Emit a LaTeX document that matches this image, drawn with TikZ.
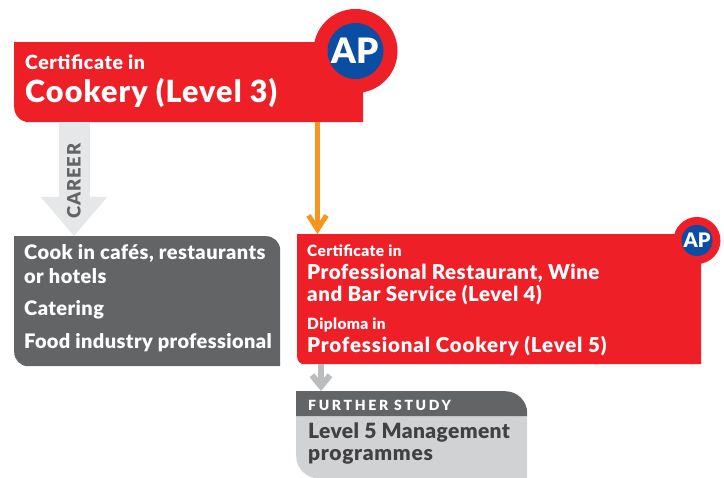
\documentclass[tikz,border=0pt]{standalone}
\usepackage{fontspec}
\setmainfont{Lato}[BoldFont={Lato Black}]
\usetikzlibrary{arrows.meta}
\definecolor{apred}{HTML}{EE1F26}
\definecolor{apblue}{HTML}{0A4DA2}
\definecolor{apgrey}{HTML}{636466}
\definecolor{aplight}{HTML}{D1D2D4}
\definecolor{apink}{HTML}{414042}
\definecolor{aporange}{HTML}{F7941D}
\definecolor{appale}{HTML}{E6E7E8}
\tikzset{
  cornerbox/.style n args={3}{inner sep=0pt,anchor=north west,path picture={
    \fill[#1] (path picture bounding box.north west)
      [rounded corners=#3] -- (path picture bounding box.north east)
      [sharp corners] -- (path picture bounding box.south east)
      [rounded corners=#2] -- (path picture bounding box.south west)
      [sharp corners] -- cycle;}},
  boxtext/.style n args={3}{inner sep=0pt,anchor=base west,text=#1,font=\bfseries\fontsize{#2}{#2}\selectfont\addfontfeature{LetterSpace=#3}},
  apdisc/.style={circle,fill=apblue,inner sep=0pt,text=white},
}
\begin{document}
\begin{tikzpicture}[x=1pt,y=-1pt]
\useasboundingbox (0,0) rectangle (724,478);
\coordinate (careertop) at (74,122);
\coordinate (ordertop) at (317.5,122);
\coordinate (studytop) at (321,364);

\node[circle,fill=apred,minimum size=84,inner sep=0pt] (badgebig) at (355.5,51) {};
\node[circle,fill=apred,minimum size=47,inner sep=0pt] (badgesmall) at (697,240.5) {};
\node[cornerbox={apred}{15}{0.01},minimum width=349,minimum height=80] (cookery) at (14,42) {};
\node[cornerbox={apgrey}{14}{14},minimum width=266,minimum height=130] (jobs) at (14,236) {};
\node[cornerbox={apred}{7}{0.01},minimum width=404,minimum height=130] (prof) at (297,234) {};
\node[cornerbox={aplight}{22}{0.01},minimum width=231,minimum height=62] (studybody) at (296,416) {};
\node[cornerbox={apgrey}{0.01}{22},minimum width=231,minimum height=25] (studyhead) at (296,391) {};

\draw[line width=31,draw=appale,-{Triangle[length=39,width=64]}] (careertop) -- (careertop |- jobs.north);
\draw[line width=5,draw=aporange,-{Straight Barb[length=14,width=18]}] (ordertop) -- (ordertop |- prof.north);
\draw[line width=6,draw=aplight!80!apgrey,-{Straight Barb[length=11,width=18]}] (studytop) -- (studytop |- studyhead.north);

\node[apdisc,minimum size=56,font=\bfseries\fontsize{35}{35}\selectfont] (apbig) at (badgebig) {AP};
\node[apdisc,minimum size=31,font=\bfseries\fontsize{20}{20}\selectfont] (apsmall) at (badgesmall) {AP};

\node[boxtext={white}{19.5}{3}] (certa) at (25,70) {Certificate in};
\node[boxtext={white}{30.5}{3.6}] (cookname) at (25,102.5) {Cookery (Level 3)};
\node[boxtext={apgrey}{18.5}{4.5},rotate=90] (career) at (80.5,219) {CAREER};

\node[boxtext={white}{20}{2.2}] (joba) at (24,259.5) {Cook in cafés, restaurants};
\node[boxtext={white}{20}{2.2}] (jobb) at (24,283.5) {or hotels};
\node[boxtext={white}{20}{2.2}] (jobc) at (24,315.5) {Catering};
\node[boxtext={white}{20}{1.9}] (jobd) at (24,348.5) {Food industry professional};

\node[boxtext={white}{15.5}{2.5}] (certb) at (307,256.5) {Certificate in};
\node[boxtext={white}{20.5}{2.5}] (profa) at (307,279.5) {Professional Restaurant, Wine};
\node[boxtext={white}{20.5}{2.5}] (profb) at (307,301.5) {and Bar Service (Level 4)};
\node[boxtext={white}{15.5}{2.5}] (diploma) at (307,329.5) {Diploma in};
\node[boxtext={white}{20.5}{4.1}] (profc) at (307,352.5) {Professional Cookery (Level 5)};

\node[boxtext={white}{14}{19}] (further) at (308,410.5) {FURTHER STUDY};
\node[boxtext={apink}{21}{1.7}] (studya) at (308,438.5) {Level 5 Management};
\node[boxtext={apink}{21}{3.3}] (studyb) at (308,460.5) {programmes};
\end{tikzpicture}
\end{document}
